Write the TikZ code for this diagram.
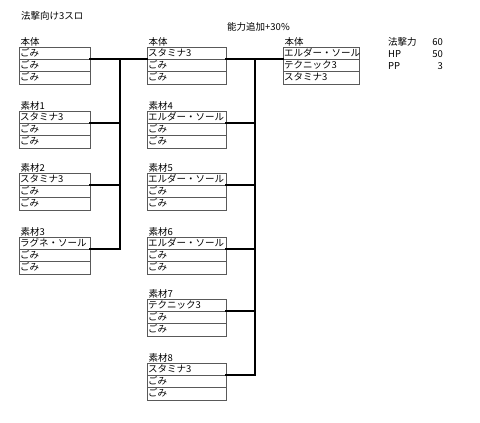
\documentclass[tikz,border=0pt]{standalone}
\usepackage{fontspec}
\setmainfont{Noto Sans CJK JP}
\usetikzlibrary{positioning}

% one group: name, x, y (box top), column style, label, three rows
\newcommand{\slotgroup}[8]{%
  \node[grplabel] (#1-lbl) at (#2,#3) {#5};
  \node[slot,#4,anchor=north west] (#1-1) at (#2,#3) {#6};
  \node[slot,#4,below=0pt of #1-1] (#1-2) {#7};
  \node[slot,#4,below=0pt of #1-2] (#1-3) {#8};
}

\begin{document}
\begin{tikzpicture}[
    x=1pt, y=-1pt,
    every node/.style={font=\fontsize{9.5}{11}\selectfont},
    slot/.style={rectangle, draw=black!65, line width=0.6pt, inner xsep=1pt, inner ysep=0pt, outer sep=0pt, minimum height=12.33pt, text height=8pt, text depth=2pt, align=left},
    colA/.style={minimum width=71pt, text width=69pt},
    colB/.style={minimum width=79pt, text width=77pt},
    colC/.style={minimum width=76pt, text width=74pt},
    grplabel/.style={anchor=south west, inner sep=0.5pt, xshift=1pt},
    bus/.style={line width=2pt, line cap=rect},
    stat/.style={inner sep=0pt}
  ]
    \useasboundingbox (0,0) rectangle (480,423);

    % headings
    \node[anchor=west, inner sep=0pt] (title) at (21,16) {法撃向け3スロ};
    \node[anchor=west, inner sep=0pt] (bonus) at (227,27) {能力追加+30\%};

    % first column
    \slotgroup{hon1}{19}{47}{colA}{本体}{ごみ}{ごみ}{ごみ}
    \slotgroup{mat1}{19}{111}{colA}{素材1}{スタミナ3}{ごみ}{ごみ}
    \slotgroup{mat2}{19}{173}{colA}{素材2}{スタミナ3}{ごみ}{ごみ}
    \slotgroup{mat3}{19}{237}{colA}{素材3}{ラグネ・ソール}{ごみ}{ごみ}

    % second column
    \slotgroup{hon2}{147}{47}{colB}{本体}{スタミナ3}{ごみ}{ごみ}
    \slotgroup{mat4}{147}{111}{colB}{素材4}{エルダー・ソール}{ごみ}{ごみ}
    \slotgroup{mat5}{147}{173}{colB}{素材5}{エルダー・ソール}{ごみ}{ごみ}
    \slotgroup{mat6}{147}{237}{colB}{素材6}{エルダー・ソール}{ごみ}{ごみ}
    \slotgroup{mat7}{147}{299}{colB}{素材7}{テクニック3}{ごみ}{ごみ}
    \slotgroup{mat8}{147}{363}{colB}{素材8}{スタミナ3}{ごみ}{ごみ}

    % result
    \slotgroup{hon3}{283}{47}{colC}{本体}{エルダー・ソール}{テクニック3}{スタミナ3}

    % stats
    \node[stat, anchor=west] (atk) at (388,42) {法撃力};
    \node[stat, anchor=east] (atkv) at (443,42) {60};
    \node[stat, anchor=west] (hp) at (388,54) {HP};
    \node[stat, anchor=east] (hpv) at (443,54) {50};
    \node[stat, anchor=west] (pp) at (388,66) {PP};
    \node[stat, anchor=east] (ppv) at (443,66) {3};

    % connections
    \coordinate (busA) at (120,60);
    \coordinate (busB) at (255,60);
    \draw[bus] (hon1-1.south east) -- (hon2-1.south west);
    \draw[bus] (mat1-1.south east) -| (busA);
    \draw[bus] (mat2-1.south east) -| (busA);
    \draw[bus] (mat3-1.south east) -| (busA);

    \draw[bus] (hon2-1.south east) -- (hon3-1.south west);
    \draw[bus] (mat4-1.south east) -| (busB);
    \draw[bus] (mat5-1.south east) -| (busB);
    \draw[bus] (mat6-1.south east) -| (busB);
    \draw[bus] (mat7-1.south east) -| (busB);
    \draw[bus] (mat8-1.south east) -| (busB);
  \end{tikzpicture}
\end{document}
